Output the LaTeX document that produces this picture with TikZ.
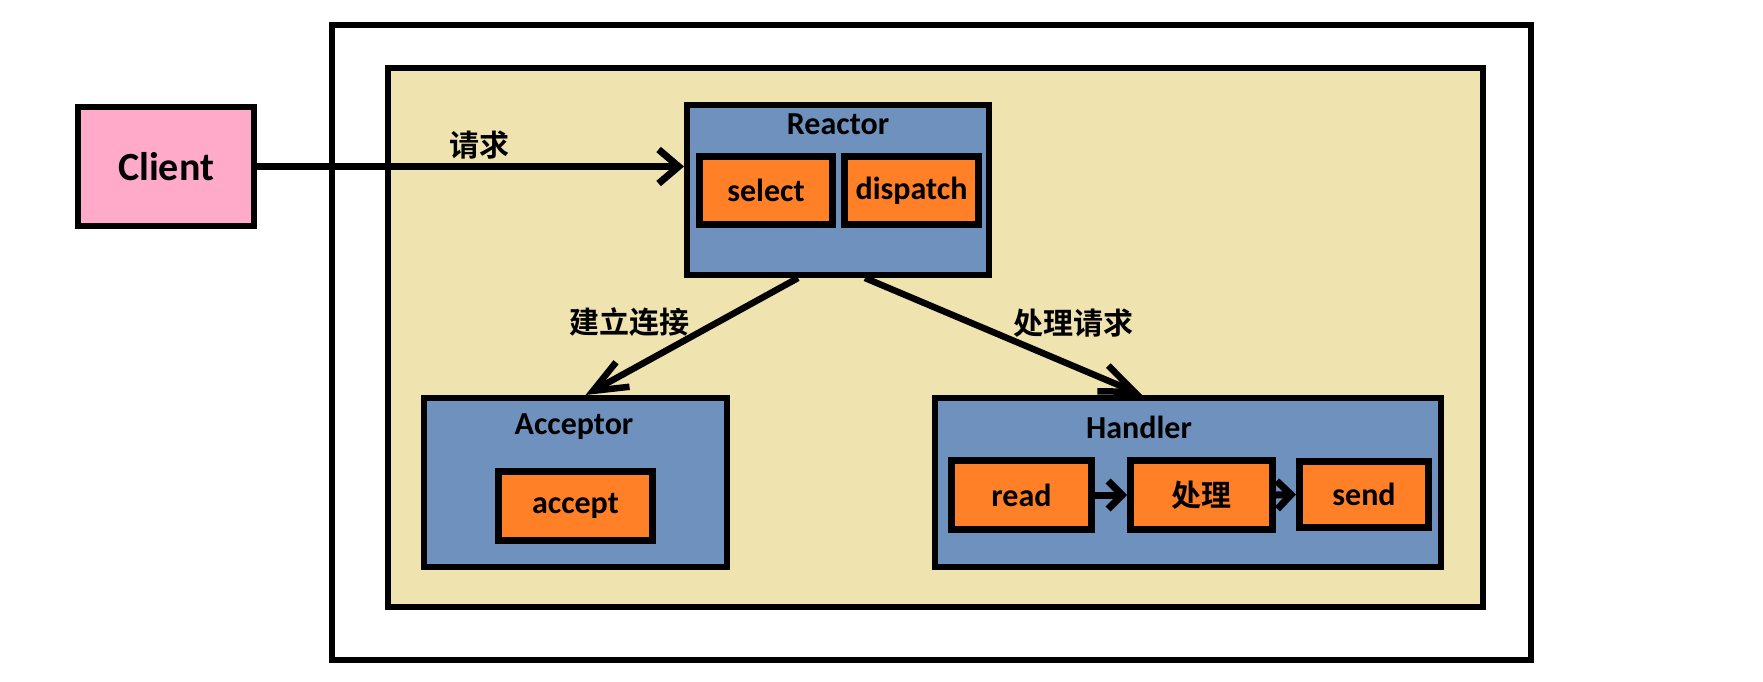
\documentclass[tikz,border=0pt]{standalone}
\usepackage{fontspec}
\setmainfont{Carlito}
\newfontfamily\cjk{Noto Sans CJK SC Bold}
\usetikzlibrary{arrows.meta,calc}
\definecolor{pinkc}{RGB}{255,170,200}
\definecolor{tanc}{RGB}{239,227,176}
\definecolor{bluec}{RGB}{111,145,190}
\definecolor{orangec}{RGB}{255,128,38}
\begin{document}
\begin{tikzpicture}[x=1pt,y=-1pt,
  frame/.style={draw, rectangle, line width=6pt, inner sep=0pt},
  bluebox/.style={frame, fill=bluec},
  orangebox/.style={draw, rectangle, line width=7pt, fill=orangec, inner sep=0pt,
    font=\bfseries\fontsize{32}{38}\selectfont},
  title/.style={font=\bfseries\fontsize{32}{38}\selectfont, inner sep=0pt},
  lbl/.style={font=\cjk\fontsize{30}{36}\selectfont, inner sep=0pt},
  arrA/.style={line width=7pt, -{Straight Barb[length=20pt,width=34pt]}},
  arrB/.style={line width=6.5pt, -{Straight Barb[length=34pt,width=28pt]}},
  arrC/.style={line width=7pt, -{Straight Barb[length=14pt,width=28pt]}}]
\useasboundingbox (0,0) rectangle (1763,681);
\fill[white] (0,0) rectangle (1763,681);
% containers
\node[frame, fill=white, minimum width=1199pt, minimum height=635pt] (outer) at (931.5,342.5) {};
\node[frame, fill=tanc, minimum width=1095pt, minimum height=539pt] (tan) at (935.5,337.5) {};
% client
\node[draw, line width=6pt, fill=pinkc, minimum width=176pt, minimum height=119pt,
  font=\bfseries\fontsize{40}{46}\selectfont] (client) at (166,166.5) {Client};
% reactor
\node[bluebox, minimum width=302pt, minimum height=170pt] (reactor) at (838,190) {};
\node[title] (rtitle) at (838,124) {Reactor};
\node[orangebox, minimum width=133pt, minimum height=68pt] (select) at (766,190.5) {select};
\node[orangebox, minimum width=134pt, minimum height=68pt] (dispatch) at (911.5,190.5) {dispatch};
% acceptor
\node[bluebox, minimum width=303pt, minimum height=169pt] (acceptor) at (575.5,482.5) {};
\node[title] (atitle) at (574,427) {Acceptor};
\node[orangebox, minimum width=154pt, minimum height=69pt] (accept) at (575.5,506) {accept};
% handler
\node[bluebox, minimum width=506pt, minimum height=169pt] (handler) at (1188,482.5) {};
\node[title] (htitle) at (1139,427) {Handler};
\node[orangebox, minimum width=140pt, minimum height=69pt] (read) at (1021.5,495) {read};
\node[orangebox, minimum width=142pt, minimum height=69pt, font=\cjk\fontsize{30}{36}\selectfont] (proc) at (1201.5,495) {处理};
\node[orangebox, minimum width=129pt, minimum height=66pt] (send) at (1364,494.5) {send};
% labels
\node[lbl] (l1) at (479,145) {请求};
\node[lbl] (l2) at (629,322) {建立连接};
\node[lbl] (l3) at (1073,323) {处理请求};
% connectors
\coordinate (r1) at ($(reactor.south)+(-40,0)$);
\coordinate (r2) at ($(reactor.south)+(27,0)$);
\coordinate (a1) at ($(acceptor.north)+(10,0)$);
\coordinate (h1) at ($(handler.north)+(-46,0)$);
\draw[arrA] (client.east) -- (client.east -| reactor.west);
\draw[arrB] (r1) -- (a1);
\draw[arrB] (r2) -- (h1);
\draw[arrC] (read.east) -- (proc.west);
\draw[arrC] (proc.east) -- (send.west);
\end{tikzpicture}
\end{document}
